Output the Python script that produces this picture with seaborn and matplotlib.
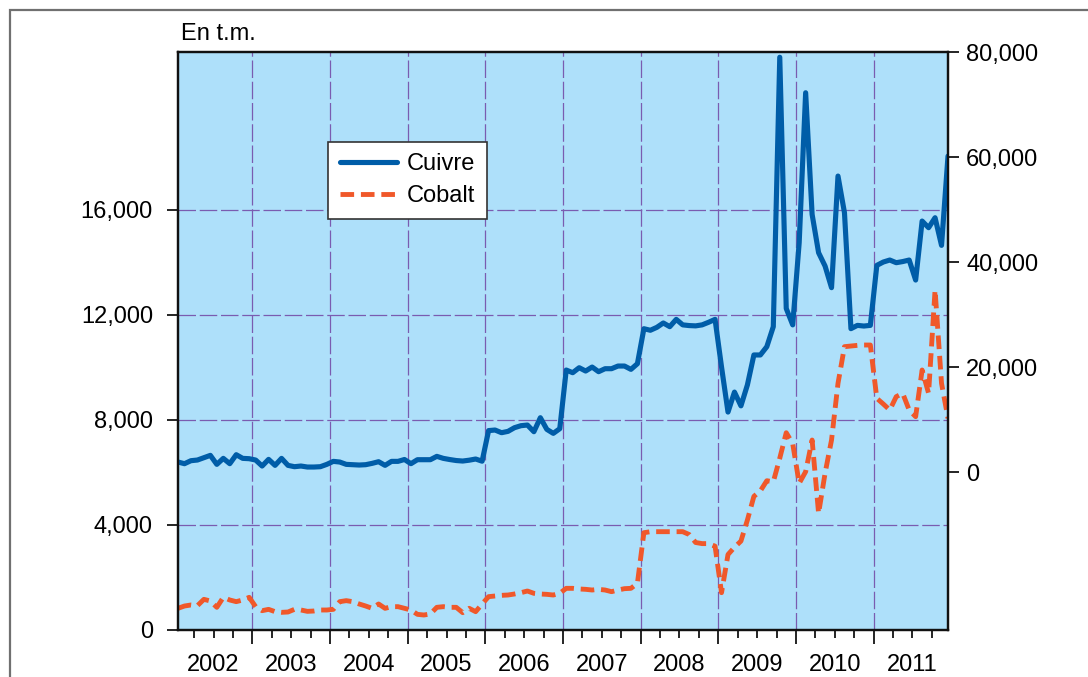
import numpy as np
import matplotlib.pyplot as plt
import seaborn as sns
from matplotlib.lines import Line2D
from matplotlib.patches import Rectangle

# monthly series, Jan 2002 .. Dec 2011 (tonnes)
years = list(range(2002, 2012))
year_labels = [str(y) for y in years]

cuivre = [
    1966, 1650, 2220, 2347, 2791, 3235, 1522, 2664, 1650, 3362, 2664, 2601,   # 2002
    2347, 1205, 2474, 1332, 2664, 1332, 1078, 1205, 1015, 1015, 1078, 1522,   # 2003
    2093, 1966, 1522, 1459, 1396, 1459, 1713, 2030, 1332, 2093, 2093, 2450,   # 2004
    1650, 2410, 2410, 2410, 3045, 2664, 2440, 2250, 2157, 2315, 2540, 2125,   # 2005
    7950, 8056, 7549, 7802, 8500, 8881, 9008, 7739, 10403, 8183, 7422, 8310,  # 2006
    19474, 18966, 19918, 19284, 20045, 19157, 19728, 19728, 20235, 20235, 19601, 20679,  # 2007
    27340, 27043, 27594, 28431, 27727, 29116, 28069, 27936, 27879, 28069, 28564, 29116,  # 2008
    20058, 11475, 15281, 12655, 16651, 22341, 22341, 23921, 27727, 79000, 31190, 28069,  # 2009
    43702, 72250, 49097, 41805, 39268, 35148, 56390, 49415, 27346, 27974, 27847, 27974,  # 2010
    39393, 40028, 40409, 39901, 40117, 40409, 36600, 47828, 46560, 48463, 43198, 60191,  # 2011
]

cobalt = [
    825, 913, 952, 926, 1167, 1104, 863, 1243, 1142, 1079, 1142, 1243,        # 2002
    888, 736, 786, 698, 672, 685, 786, 761, 710, 723, 761, 761,               # 2003
    786, 1079, 1117, 1079, 990, 913, 825, 990, 825, 888, 888, 825,            # 2004
    761, 596, 571, 609, 863, 888, 863, 863, 660, 825, 698, 990,               # 2005
    1269, 1294, 1319, 1332, 1370, 1421, 1484, 1396, 1370, 1357, 1332, 1396,   # 2006
    1586, 1586, 1561, 1548, 1522, 1548, 1522, 1459, 1522, 1573, 1586, 1776,   # 2007
    3703, 3742, 3742, 3742, 3742, 3742, 3742, 3634, 3330, 3288, 3288, 3191,   # 2008
    1420, 2873, 3148, 3384, 4187, 5086, 5294, 5682, 5640, 6539, 7509, 7094,   # 2009
    5582, 6026, 7231, 4440, 5963, 7231, 9388, 10784, 10809, 10834, 10847, 10847,  # 2010
    8817, 8602, 8373, 8881, 9008, 8373, 8120, 9896, 9008, 12940, 9388, 8056,  # 2011
]

# mid-month position in decimal years
t = 2002 + (np.arange(len(cuivre)) + 0.5) / 12

left_ticks = [0, 4000, 8000, 12000, 16000]
right_ticks = [0, 20000, 40000, 60000, 80000]

c_cu = "#005DA8"
c_co = "#F0582A"
c_bg = "#AEE0FA"
c_grid = "#7A5CB0"

sns.set_style("ticks")
plt.rcParams["font.family"] = ["Liberation Sans", "DejaVu Sans"]
plt.rcParams["text.color"] = "black"
fs = 17

fig = plt.figure(figsize=(10.88, 6.77), dpi=100)
ax = fig.add_axes([178 / 1088, 1 - 630 / 677, 770 / 1088, 578 / 677])
ax2 = ax.twinx()

# outer frame (cut by the image edges on right/bottom)
fig.patches.append(Rectangle((10 / 1088, -0.05), 1.1, 1 - 10 / 677 + 0.05,
                             transform=fig.transFigure, fill=False,
                             edgecolor="#707070", linewidth=1.6))

ax.set_facecolor(c_bg)

sns.lineplot(x=t, y=cobalt, ax=ax, color=c_co, linewidth=3.5,
             linestyle=(0, (2.8, 1.4)), dash_capstyle="butt")
sns.lineplot(x=t, y=cuivre, ax=ax2, color=c_cu, linewidth=3.7)

xmin, xmax = 2002 + 0.5 / 12, 2011 + 11.5 / 12
ax.set_xlim(xmin, xmax)
ax.set_ylim(0, 22000)
ax2.set_ylim(-30000, 80000)

ax.set_yticks(left_ticks)
ax.set_yticklabels([f"{v:,}" for v in left_ticks], fontsize=fs)
ax2.set_yticks(right_ticks)
ax2.set_yticklabels([f"{v:,}" for v in right_ticks], fontsize=fs)

ax.set_xticks(years[1:])
ax.set_xticklabels([])
ax.set_xticks([y + q / 4 for y in years for q in (1, 2, 3)], minor=True)

ax.tick_params(axis="y", length=8, width=1.2, pad=10, colors="black")
ax.tick_params(axis="x", which="major", length=10, width=1.2, colors="black")
ax.tick_params(axis="x", which="minor", length=6, width=1.2, colors="black")
ax2.tick_params(axis="y", length=8, width=1.2, pad=5, colors="black")

for y, lab in zip(years, year_labels):
    ax.text(y + 0.5, -0.06, lab, transform=ax.get_xaxis_transform(),
            ha="center", va="center", fontsize=fs, color="black")

# grid
for v in left_ticks[1:]:
    ax.axhline(v, color=c_grid, linewidth=0.9, linestyle=(0, (14, 3)), zorder=1)
for y in years[1:]:
    ax.axvline(y, color=c_grid, linewidth=0.9, linestyle=(0, (14, 3)), zorder=1)

for a in (ax, ax2):
    for s in a.spines.values():
        s.set_linewidth(1.6)
        s.set_color("#111111")

ax.set_xlabel("")
ax.set_ylabel("")
ax2.set_ylabel("")

ax.text(0.004, 1.031, "En t.m.", transform=ax.transAxes, ha="left",
        va="center", fontsize=fs, color="black")

handles = [
    Line2D([], [], color=c_cu, linewidth=3.7),
    Line2D([], [], color=c_co, linewidth=3.5, linestyle=(0, (2.8, 1.4)),
           dash_capstyle="butt"),
]
leg = ax2.legend(handles, ["Cuivre", "Cobalt"], loc="upper left",
                 bbox_to_anchor=(0.195, 0.845), fontsize=fs, frameon=True,
                 fancybox=False, handlelength=2.4, handletextpad=0.45,
                 borderpad=0.5, labelspacing=0.4, borderaxespad=0)
leg.get_frame().set_edgecolor("#333333")
leg.get_frame().set_linewidth(1.2)
leg.get_frame().set_alpha(1)
for txt in leg.get_texts():
    txt.set_color("black")

fig.savefig("out.png", dpi=100)
